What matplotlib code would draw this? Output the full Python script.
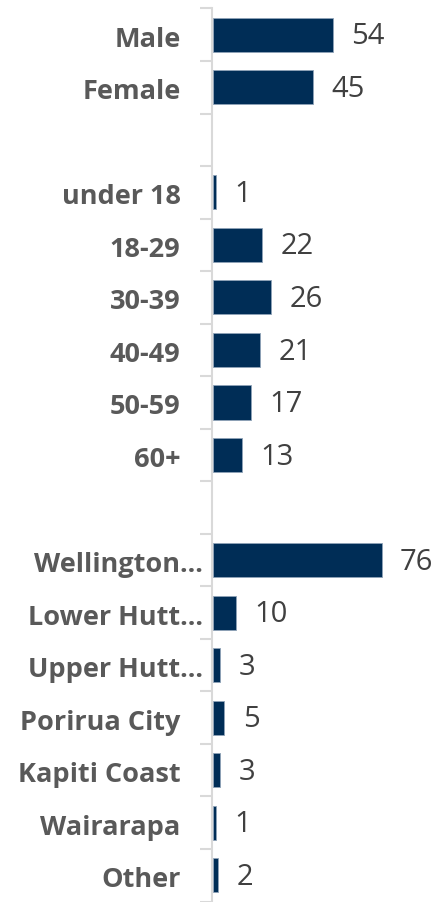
import matplotlib
matplotlib.use("Agg")
import matplotlib.pyplot as plt
import matplotlib.transforms as mtransforms
import numpy as np

categories = ["Male", "Female", "", "under 18", "18-29", "30-39", "40-49", "50-59", "60+", "",
              "Wellington...", "Lower Hutt...", "Upper Hutt...", "Porirua City", "Kapiti Coast",
              "Wairarapa", "Other"]
values = [54, 45, None, 1, 22, 26, 21, 17, 13, None, 76, 10, 3, 5, 3, 1, 2]

bar_color = "#002D56"
label_color = "#595959"
value_color = "#404040"
axis_color = "#D9D9D9"
font = ["Open Sans", "DejaVu Sans"]

fig = plt.figure(figsize=(4.39, 9.02), dpi=100)
W, H = 439, 902
left, right, top, bottom = 212.5, 434, 8.5, 901.5
ax = fig.add_axes([left / W, 1 - bottom / H, (right - left) / W, (bottom - top) / H])

n = len(categories)
y = np.arange(n)
for yi, v in zip(y, values):
    if v is None:
        continue
    ax.barh(yi, v, height=0.65, color=bar_color, edgecolor="#8FA3B8", linewidth=0.6, left=0.4)
    ax.text(v + 0.4 + 8.3, yi + 0.04, str(v), va="center", ha="left", fontsize=21,
            color=value_color, family=font)

ax.set_xlim(0, 100)
ax.set_ylim(n - 0.5, -0.5)
ax.set_yticks(y)
ax.set_yticklabels(categories, fontsize=19.5, fontweight="bold", color=label_color, family=font)
ax.set_yticks(np.arange(n + 1) - 0.5, minor=True)
ax.tick_params(axis="y", which="major", length=0, pad=23)
ax.tick_params(axis="y", which="minor", length=9, width=1.5, color=axis_color)
ax.set_xticks([])
for s in ["top", "right", "bottom"]:
    ax.spines[s].set_visible(False)
ax.spines["left"].set_color(axis_color)
ax.spines["left"].set_linewidth(1.5)

# shift labels: truncated ones sit closer to the axis, all slightly lower
for t in ax.get_yticklabels():
    dx = 22 if t.get_text().endswith("...") else 0
    t.set_transform(t.get_transform() + mtransforms.Affine2D().translate(dx, -2))

fig.savefig("out.png", dpi=100)
